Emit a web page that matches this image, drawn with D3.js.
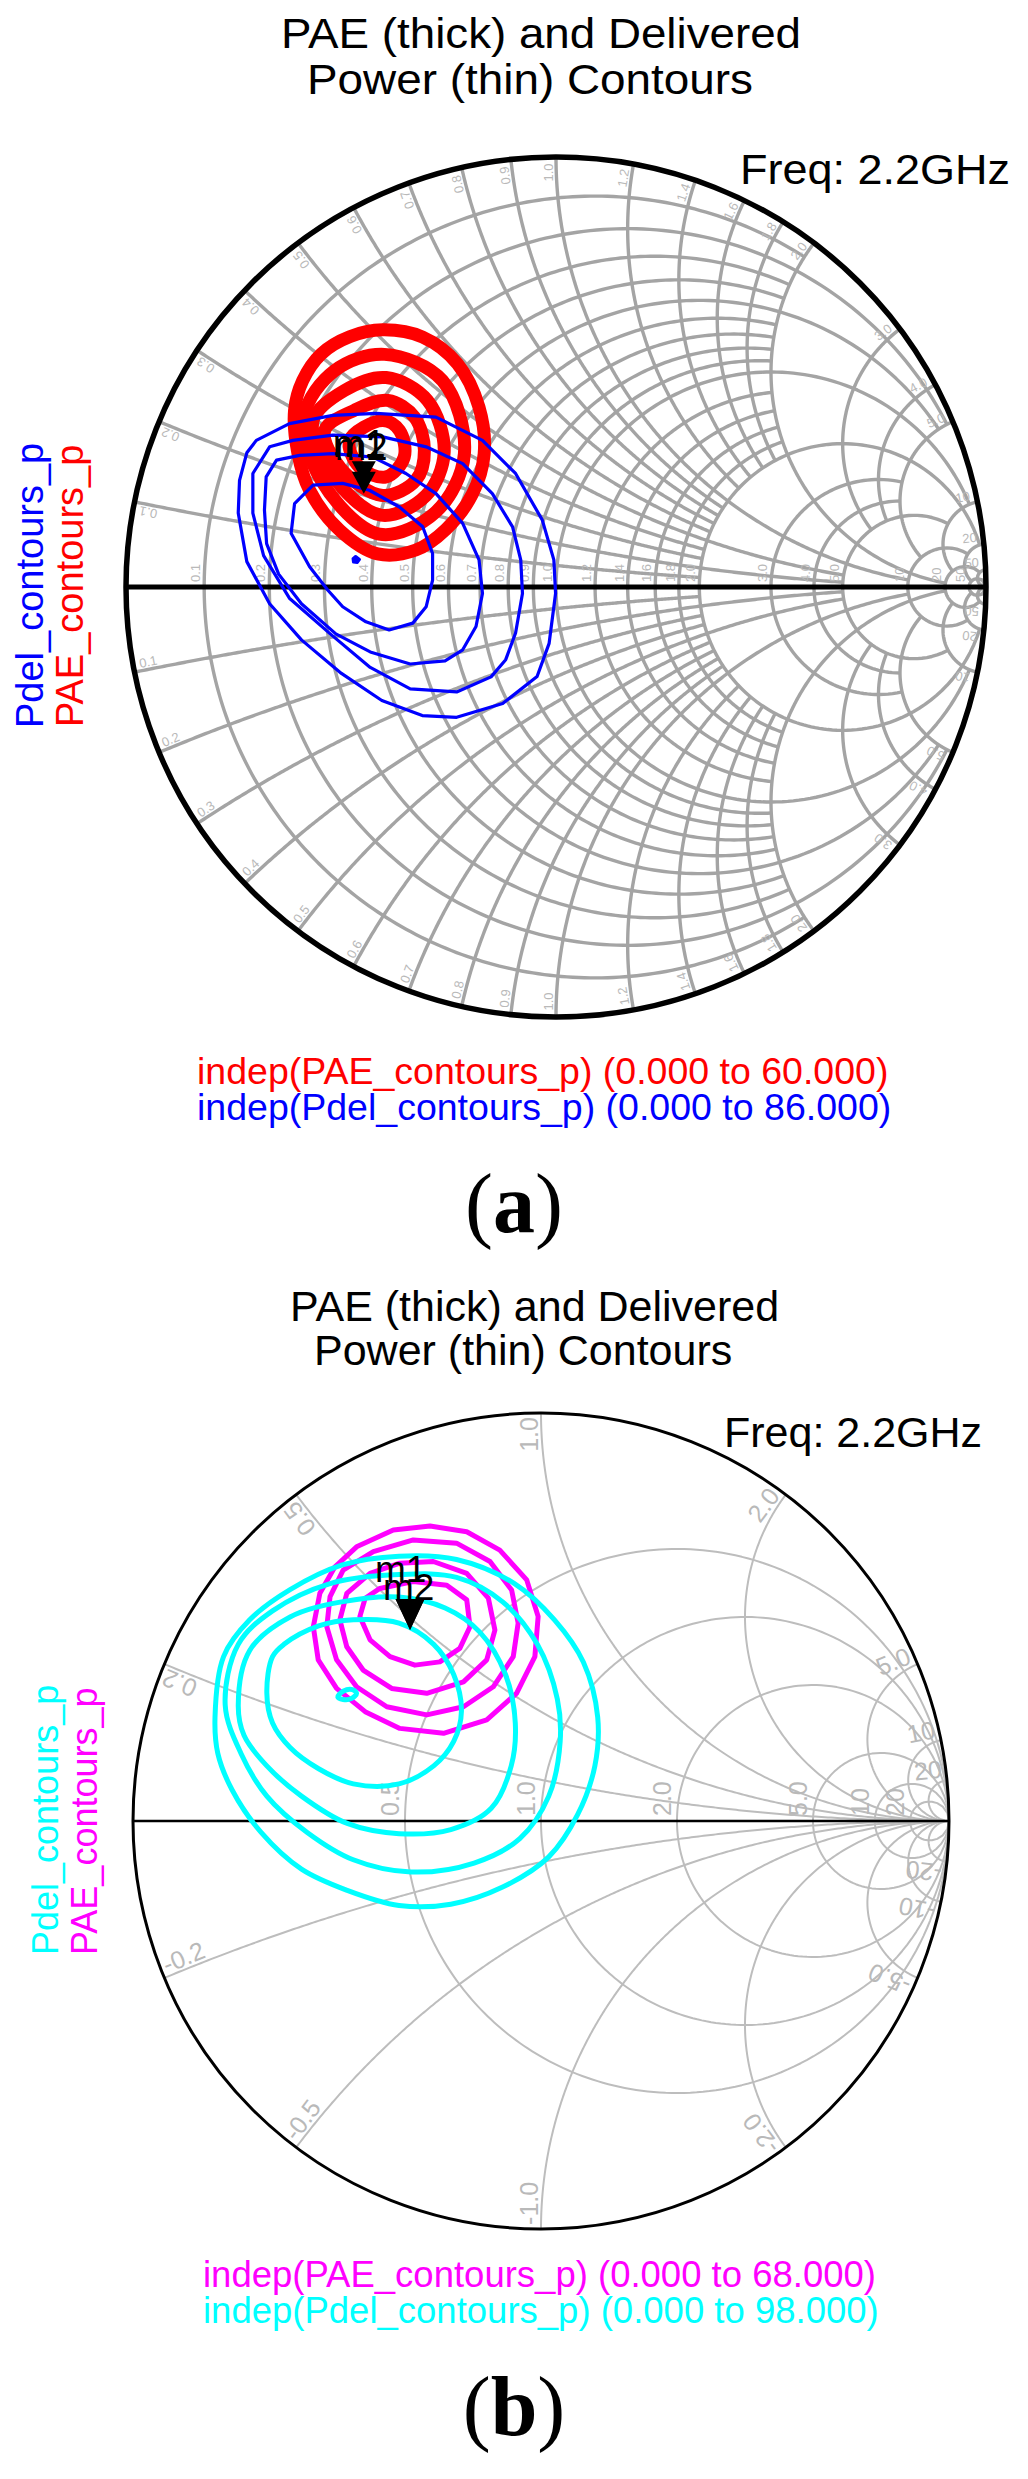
<!DOCTYPE html>
<html><head><meta charset="utf-8">
<script src="https://cdn.jsdelivr.net/npm/d3@7/dist/d3.min.js"></script>
<style>html,body{margin:0;padding:0;background:#fff;}svg{display:block;}</style>
</head><body>
<svg id="fig" width="1028" height="2479"></svg>
<script>
// ================= DATA =================
const titleLine1 = "PAE (thick) and Delivered";
const titleLine2 = "Power (thin) Contours";
const freqText = "Freq: 2.2GHz";
const panelNames = ["a", "b"];

// Top chart (a): fine Smith grid, normalized values and how far each line extends
const topGridValues = [0.1,0.2,0.3,0.4,0.5,0.6,0.7,0.8,0.9,1.0,1.2,1.4,1.6,1.8,2.0,3.0,4.0,5.0,10,20,50];
const topGridReach  = [2,5,2,2,5,2,2,2,2,10,2,2,2,2,20,5,5,10,20,50,1e9];
const topGridLabels = ["0.1","0.2","0.3","0.4","0.5","0.6","0.7","0.8","0.9","1.0","1.2","1.4","1.6","1.8","2.0","3.0","4.0","5.0","10","20","50"];

// Bottom chart (b): coarse Smith grid
const botRValues = [0.5,1,2,5,10,20];
const botRLabels = ["0.5","1.0","2.0","5.0","10","20"];
const botXValues = [0.2,0.5,1,2,5,10,20];
const botXLabels = ["0.2","0.5","1.0","2.0","5.0","10","20"];
const botXNegLabels = ["-0.2","-0.5","-1.0","-2.0","-5.0","-10","-20"];

// Contours as reflection coefficient [Re, Im]
const topPAE1 = [[-0.403,0.598],[-0.480,0.582],[-0.546,0.542],[-0.589,0.480],[-0.608,0.411],[-0.600,0.310],[-0.573,0.225],[-0.503,0.132],[-0.415,0.077],[-0.326,0.086],[-0.256,0.134],[-0.194,0.217],[-0.167,0.310],[-0.179,0.418],[-0.229,0.519],[-0.310,0.581]];
const topPAE2 = [[-0.399,0.541],[-0.515,0.503],[-0.585,0.399],[-0.546,0.248],[-0.411,0.123],[-0.279,0.175],[-0.213,0.310],[-0.264,0.480]];
const topPAE3 = [[-0.395,0.487],[-0.492,0.457],[-0.565,0.387],[-0.523,0.264],[-0.407,0.167],[-0.302,0.213],[-0.260,0.314],[-0.299,0.434]];
const topPAE4 = [[-0.391,0.434],[-0.469,0.411],[-0.538,0.364],[-0.500,0.275],[-0.403,0.213],[-0.326,0.248],[-0.306,0.318],[-0.329,0.395]];
const topPAE5 = [[-0.403,0.387],[-0.480,0.341],[-0.457,0.279],[-0.395,0.256],[-0.353,0.302],[-0.364,0.364]];

const topPdel1 = [[-0.736,0.248],[-0.719,0.312],[-0.697,0.341],[-0.620,0.380],[-0.519,0.399],[-0.418,0.404],[-0.279,0.395],[-0.171,0.341],[-0.094,0.264],[-0.032,0.156],[-0.005,0.063],[-0.001,-0.015],[-0.016,-0.131],[-0.044,-0.208],[-0.124,-0.271],[-0.231,-0.303],[-0.311,-0.299],[-0.405,-0.264],[-0.499,-0.201],[-0.592,-0.123],[-0.666,-0.039],[-0.719,0.059],[-0.739,0.172]];
const topPdel2 = [[-0.705,0.172],[-0.705,0.264],[-0.666,0.326],[-0.612,0.341],[-0.519,0.353],[-0.403,0.349],[-0.302,0.326],[-0.217,0.287],[-0.148,0.217],[-0.101,0.140],[-0.082,0.063],[-0.078,-0.015],[-0.094,-0.107],[-0.117,-0.169],[-0.151,-0.209],[-0.231,-0.244],[-0.339,-0.237],[-0.432,-0.187],[-0.525,-0.109],[-0.620,-0.026],[-0.680,0.073]];
const topPdel3 = [[-0.674,0.256],[-0.650,0.295],[-0.596,0.306],[-0.519,0.310],[-0.426,0.302],[-0.349,0.264],[-0.279,0.217],[-0.217,0.148],[-0.179,0.063],[-0.171,-0.015],[-0.186,-0.092],[-0.217,-0.146],[-0.258,-0.172],[-0.339,-0.179],[-0.432,-0.151],[-0.512,-0.109],[-0.592,-0.039],[-0.645,0.030],[-0.673,0.101],[-0.678,0.179]];
const topPdel4 = [[-0.616,0.125],[-0.608,0.194],[-0.565,0.237],[-0.496,0.241],[-0.434,0.225],[-0.364,0.186],[-0.310,0.140],[-0.287,0.078],[-0.287,0.016],[-0.302,-0.046],[-0.333,-0.084],[-0.388,-0.100],[-0.442,-0.081],[-0.496,-0.046],[-0.531,-0.007],[-0.573,0.047]];
const topPdel5 = [[-0.472,0.066],[-0.466,0.071],[-0.457,0.064],[-0.462,0.057],[-0.471,0.058]];

const botPAE1 = [[-0.452,0.672],[-0.362,0.713],[-0.272,0.723],[-0.182,0.709],[-0.101,0.664],[-0.035,0.591],[-0.007,0.501],[-0.015,0.403],[-0.060,0.313],[-0.133,0.248],[-0.239,0.215],[-0.346,0.227],[-0.431,0.268],[-0.501,0.325],[-0.546,0.395],[-0.558,0.476],[-0.542,0.558],[-0.505,0.623]];
const botPAE2 = [[-0.485,0.615],[-0.411,0.660],[-0.313,0.689],[-0.207,0.681],[-0.125,0.636],[-0.072,0.566],[-0.056,0.485],[-0.068,0.403],[-0.117,0.329],[-0.190,0.280],[-0.280,0.260],[-0.378,0.280],[-0.452,0.329],[-0.501,0.395],[-0.525,0.476],[-0.517,0.550]];
const botPAE3 = [[-0.419,0.607],[-0.346,0.632],[-0.264,0.636],[-0.182,0.607],[-0.129,0.546],[-0.113,0.468],[-0.133,0.395],[-0.190,0.341],[-0.280,0.313],[-0.366,0.325],[-0.436,0.370],[-0.476,0.427],[-0.493,0.493],[-0.476,0.558]];
const botPAE4 = [[-0.395,0.570],[-0.313,0.587],[-0.231,0.578],[-0.182,0.542],[-0.174,0.476],[-0.199,0.423],[-0.248,0.390],[-0.309,0.382],[-0.370,0.403],[-0.419,0.444],[-0.444,0.501],[-0.431,0.546]];

const botPdel1 = [[-0.799,0.254],[-0.778,0.403],[-0.714,0.493],[-0.615,0.567],[-0.489,0.627],[-0.348,0.649],[-0.207,0.641],[-0.065,0.582],[0.033,0.493],[0.104,0.389],[0.139,0.254],[0.132,0.135],[0.090,0.016],[0.019,-0.088],[-0.094,-0.162],[-0.221,-0.204],[-0.348,-0.207],[-0.475,-0.170],[-0.587,-0.118],[-0.686,-0.028],[-0.757,0.076],[-0.792,0.165]];
const botPdel2 = [[-0.774,0.284],[-0.742,0.433],[-0.658,0.515],[-0.517,0.582],[-0.348,0.604],[-0.207,0.597],[-0.094,0.537],[-0.009,0.433],[0.040,0.299],[0.047,0.195],[0.019,0.061],[-0.052,-0.043],[-0.164,-0.103],[-0.319,-0.125],[-0.460,-0.095],[-0.573,-0.028],[-0.672,0.061],[-0.735,0.165]];
const botPdel3 = [[-0.742,0.284],[-0.714,0.418],[-0.615,0.500],[-0.489,0.537],[-0.348,0.549],[-0.235,0.522],[-0.150,0.463],[-0.087,0.359],[-0.063,0.240],[-0.073,0.135],[-0.122,0.031],[-0.221,-0.021],[-0.348,-0.031],[-0.475,-0.006],[-0.587,0.061],[-0.672,0.135],[-0.728,0.210]];
const botPdel4 = [[-0.672,0.314],[-0.658,0.403],[-0.630,0.433],[-0.545,0.478],[-0.460,0.493],[-0.348,0.485],[-0.263,0.433],[-0.214,0.359],[-0.195,0.269],[-0.214,0.195],[-0.263,0.135],[-0.348,0.091],[-0.460,0.091],[-0.545,0.128],[-0.615,0.180],[-0.658,0.240]];
const botPdel5 = [[-0.498,0.304],[-0.485,0.318],[-0.462,0.322],[-0.452,0.313],[-0.465,0.300],[-0.485,0.298]];

const topMarkers = [["m1",-0.447,0.241],["m2",-0.447,0.217]];
const botMarkers = [["m1",-0.321,0.468],["m2",-0.321,0.468]];

const topLegend = ["indep(PAE_contours_p) (0.000 to 60.000)", "indep(Pdel_contours_p) (0.000 to 86.000)"];
const botLegend = ["indep(PAE_contours_p) (0.000 to 68.000)", "indep(Pdel_contours_p) (0.000 to 98.000)"];
const sideLabels = ["Pdel_contours_p", "PAE_contours_p"];

// ================= DRAWING =================
const svg = d3.select("#fig");
const SANS = "'Liberation Sans', Arial, Helvetica, sans-serif";
const SERIF = "'Liberation Serif', 'Times New Roman', serif";

function gam(r, x) {
  const den = (r + 1) * (r + 1) + x * x;
  return [(r * r - 1 + x * x) / den, (2 * x) / den];
}

function drawSmith(cfg) {
  const g = svg.append("g");
  const sx = d3.scaleLinear().domain([-1, 1]).range([cfg.cx - cfg.R, cfg.cx + cfg.R]);
  const sy = d3.scaleLinear().domain([-1, 1]).range([cfg.cy + cfg.R, cfg.cy - cfg.R]);
  const line = d3.line().x(d => sx(d[0])).y(d => sy(d[1]));
  const N = 300;

  const grid = g.append("g").attr("fill", "none").attr("stroke", cfg.gridColor)
    .attr("stroke-width", cfg.gridWidth).attr("stroke-linejoin", "round");
  cfg.rValues.forEach((r, i) => {
    const L = Math.atan(cfg.rReach[i]);
    const pts = d3.range(N + 1).map(k => gam(r, Math.tan(-L + 2 * L * k / N)));
    grid.append("path").attr("d", line(pts));
  });
  cfg.xValues.forEach((xv, i) => {
    const L = Math.atan(cfg.xReach[i]);
    [1, -1].forEach(s => {
      const pts = d3.range(N + 1).map(k => gam(Math.tan(L * k / N), s * xv));
      grid.append("path").attr("d", line(pts));
    });
  });

  // grid labels
  const lab = g.append("g").attr("fill", cfg.labelColor).attr("font-size", cfg.labelSize)
    .attr("font-family", SANS);
  cfg.rValues.forEach((r, i) => {
    const X = sx(gam(r, 0)[0]);
    lab.append("text")
      .attr("transform", `translate(${X - cfg.axisLabelGap},${sy(0) - cfg.axisLabelLift}) rotate(-90)`)
      .text(cfg.rLabels[i]);
  });
  cfg.xValues.forEach((xv, i) => {
    const th = Math.PI - 2 * Math.atan(xv);
    const k = cfg.edgeInset;
    const deg = th * 180 / Math.PI;
    lab.append("text")
      .attr("transform", `translate(${sx(Math.cos(th) * k)},${sy(Math.sin(th) * k)}) rotate(${-deg})`)
      .attr("text-anchor", "end").attr("dy", -cfg.edgeLift).text(cfg.xLabels[i]);
    lab.append("text")
      .attr("transform", `translate(${sx(Math.cos(th) * k)},${sy(-Math.sin(th) * k)}) rotate(${180 + deg})`)
      .attr("text-anchor", "start").attr("dy", -cfg.edgeLift).text(cfg.xNegLabels[i]);
  });

  // boundary and real axis
  g.append("circle").attr("cx", sx(0)).attr("cy", sy(0)).attr("r", sx(1) - sx(0))
    .attr("fill", "none").attr("stroke", "#000").attr("stroke-width", cfg.boundaryWidth);
  g.append("line").attr("x1", sx(-1)).attr("x2", sx(1)).attr("y1", sy(0)).attr("y2", sy(0))
    .attr("stroke", "#000").attr("stroke-width", cfg.axisWidth);

  // contours
  cfg.contours.forEach(c => {
    const closed = d3.line().x(d => sx(d[0])).y(d => sy(d[1])).curve(c.curve);
    g.append("path").attr("d", closed(c.pts)).attr("fill", c.fill || "none")
      .attr("stroke", c.color).attr("stroke-width", c.width).attr("stroke-linejoin", "round");
  });

  // markers
  cfg.markers.forEach((m, i) => {
    const tx = sx(m[1]), ty = sy(m[2]);
    const w = cfg.markerW, h = cfg.markerH;
    g.append("path").attr("d", `M${tx - w / 2},${ty - h}L${tx + w / 2},${ty - h}L${tx},${ty}Z`).attr("fill", "#000");
    const off = cfg.markerLabelOffsets[i];
    g.append("text").attr("x", tx + off[0]).attr("y", ty + off[1])
      .attr("font-family", SANS).attr("font-size", cfg.markerFont).attr("fill", "#000").text(m[0]);
  });
  return {sx, sy};
}

const smooth = d3.curveCatmullRomClosed;
const poly = d3.curveLinearClosed;

// ---------- chart (a) ----------
drawSmith({
  cx: 556, cy: 587, R: 430,
  rValues: topGridValues, rReach: topGridReach, rLabels: topGridLabels,
  xValues: topGridValues, xReach: topGridReach, xLabels: topGridLabels, xNegLabels: topGridLabels,
  gridColor: "#a4a4a4", gridWidth: 3.4, boundaryWidth: 5.5, axisWidth: 5,
  labelColor: "#b9b9b9", labelSize: 13, axisLabelGap: 4, axisLabelLift: 5, edgeInset: 0.985, edgeLift: 3,
  contours: [
    {pts: topPAE1, color: "#ff0000", width: 13, curve: smooth},
    {pts: topPAE2, color: "#ff0000", width: 13, curve: smooth},
    {pts: topPAE3, color: "#ff0000", width: 13, curve: smooth},
    {pts: topPAE4, color: "#ff0000", width: 13, curve: smooth},
    {pts: topPAE5, color: "#ff0000", width: 13, curve: smooth},
    {pts: topPdel1, color: "#0000ff", width: 3.2, curve: poly},
    {pts: topPdel2, color: "#0000ff", width: 3.2, curve: poly},
    {pts: topPdel3, color: "#0000ff", width: 3.2, curve: poly},
    {pts: topPdel4, color: "#0000ff", width: 3.2, curve: poly},
    {pts: topPdel5, color: "#0000ff", width: 3, fill: "#0000ff", curve: poly}
  ],
  markers: topMarkers, markerW: 24, markerH: 22, markerFont: 38,
  markerLabelOffsets: [[-31, -26], [-29, -34]]
});

// ---------- chart (b) ----------
drawSmith({
  cx: 541, cy: 1821, R: 408,
  rValues: botRValues, rReach: botRValues.map(() => 1e9), rLabels: botRLabels,
  xValues: botXValues, xReach: botXValues.map(() => 1e9), xLabels: botXLabels, xNegLabels: botXNegLabels,
  gridColor: "#bdbdbd", gridWidth: 2, boundaryWidth: 3, axisWidth: 2.5,
  labelColor: "#b9b9b9", labelSize: 25, axisLabelGap: 6, axisLabelLift: 5, edgeInset: 0.99, edgeLift: 3,
  contours: [
    {pts: botPAE1, color: "#ff00ff", width: 5, curve: poly},
    {pts: botPAE2, color: "#ff00ff", width: 5, curve: poly},
    {pts: botPAE3, color: "#ff00ff", width: 5, curve: poly},
    {pts: botPAE4, color: "#ff00ff", width: 5, curve: poly},
    {pts: botPdel1, color: "#00ffff", width: 5, curve: smooth},
    {pts: botPdel2, color: "#00ffff", width: 5, curve: smooth},
    {pts: botPdel3, color: "#00ffff", width: 5, curve: smooth},
    {pts: botPdel4, color: "#00ffff", width: 5, curve: smooth},
    {pts: botPdel5, color: "#00ffff", width: 5, curve: smooth}
  ],
  markers: botMarkers, markerW: 29, markerH: 31, markerFont: 37,
  markerLabelOffsets: [[-35, -48], [-27, -30]]
});

// ---------- texts ----------
function txt(x, y, s, size, color, extra) {
  const t = svg.append("text").attr("x", x).attr("y", y).attr("font-family", SANS)
    .attr("font-size", size).attr("fill", color).text(s);
  if (extra) extra(t);
  return t;
}
// titles
txt(281, 48, titleLine1, 42, "#000", t => t.attr("textLength", 520).attr("lengthAdjust", "spacingAndGlyphs"));
txt(307, 94, titleLine2, 42, "#000", t => t.attr("textLength", 446).attr("lengthAdjust", "spacingAndGlyphs"));
txt(740, 184, freqText, 42, "#000", t => t.attr("textLength", 270).attr("lengthAdjust", "spacingAndGlyphs"));

txt(290, 1321, titleLine1, 43, "#000");
txt(314, 1365, titleLine2, 43, "#000");
txt(724, 1447, freqText, 43, "#000");

// rotated side labels
svg.append("text").attr("transform", "translate(43,728) rotate(-90)").attr("font-family", SANS)
  .attr("font-size", 38).attr("fill", "#0000ff").text(sideLabels[0]);
svg.append("text").attr("transform", "translate(83,727) rotate(-90)").attr("font-family", SANS)
  .attr("font-size", 38).attr("fill", "#ff0000").text(sideLabels[1]);
svg.append("text").attr("transform", "translate(58,1955) rotate(-90)").attr("font-family", SANS)
  .attr("font-size", 36).attr("fill", "#00ffff").text(sideLabels[0]);
svg.append("text").attr("transform", "translate(97,1955) rotate(-90)").attr("font-family", SANS)
  .attr("font-size", 36).attr("fill", "#ff00ff").text(sideLabels[1]);

// legends
txt(197, 1084, topLegend[0], 37.5, "#ff0000");
txt(197, 1120, topLegend[1], 37.5, "#0000ff");
txt(203, 2287, botLegend[0], 36.5, "#ff00ff");
txt(203, 2323, botLegend[1], 36.5, "#00ffff");

// panel labels
function panel(y, letter) {
  const t = svg.append("text").attr("x", 514).attr("y", y).attr("text-anchor", "middle")
    .attr("font-family", SERIF).attr("font-size", 84).attr("fill", "#000");
  t.append("tspan").text("(");
  t.append("tspan").attr("font-weight", "bold").text(letter);
  t.append("tspan").text(")");
}
panel(1232, panelNames[0]);
panel(2435, panelNames[1]);
</script>
</body></html>
